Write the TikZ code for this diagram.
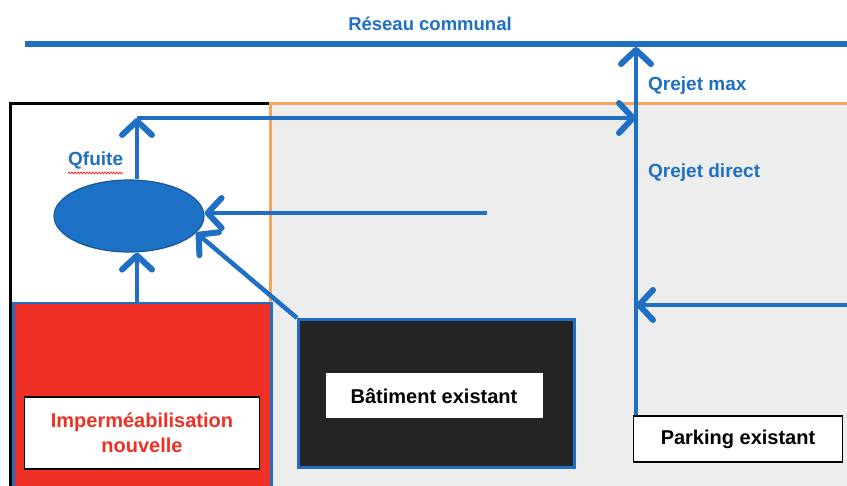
\documentclass[tikz,border=0pt]{standalone}
\usepackage{fontspec}
\setmainfont{Liberation Sans}
\usepackage{xcolor}
\usetikzlibrary{arrows.meta, shapes.geometric, decorations.pathmorphing}

\definecolor{flowblue}{HTML}{1F6FC3}
\definecolor{tankblue}{HTML}{1E72C6}
\definecolor{tankedge}{HTML}{1A5796}
\definecolor{newred}{HTML}{EE3124}
\definecolor{siteorange}{HTML}{F6A35E}
\definecolor{sitegrey}{HTML}{EDEDED}
\definecolor{bldgrey}{HTML}{242424}

\begin{document}
\begin{tikzpicture}[x=1pt, y=-1pt, >={Straight Barb[length=14pt,width=30pt,line width=1.5pt 1,round]}]

	% Styles
	\tikzstyle{flow} = [->, line width=4.5pt, flowblue]
	\tikzstyle{qlabel} = [text=flowblue, anchor=west, inner sep=0pt, font=\fontsize{19}{22}\selectfont\bfseries]
	\tikzstyle{plate} = [rectangle, draw=black, fill=white, line width=1.2pt, align=center, font=\fontsize{20}{25}\selectfont\bfseries]
	\tikzstyle{area} = [rectangle, anchor=north west, draw=flowblue, line width=2.5pt]

	% Frame
	\useasboundingbox (0,0) rectangle (847,486);
	\clip (0,0) rectangle (847,486);
	\fill[white] (0,0) rectangle (847,486);
	\draw[black, line width=3pt] (10,500) |- (270,104);
	\draw[siteorange, fill=sitegrey, line width=3pt] (270,104) rectangle (900,520);

	% Nodes
	\node[text=flowblue, font=\fontsize{18.5}{22}\selectfont\bfseries] (reseau) at (430,24) {Réseau communal};
	\coordinate (netW) at (25,44);
	\coordinate (netE) at (860,44);
	\node[ellipse, fill=tankblue, draw=tankedge, line width=1.2pt, minimum width=150pt, minimum height=72pt] (tank) at (129,216) {};
	\node[area, fill=newred, minimum width=258pt, minimum height=200pt] (newarea) at (12,302) {};
	\node[plate, text=newred, minimum width=235pt, minimum height=72pt] (newtag) at (142,433) {Imperméabilisation\\nouvelle};
	\node[area, fill=bldgrey, line width=3pt, minimum width=276pt, minimum height=148pt] (building) at (297,318) {};
	\node[plate, draw=none, minimum width=217pt, minimum height=45pt] (buildtag) at (434,396) {Bâtiment existant};
	\node[plate, minimum width=209pt, minimum height=46pt] (parking) at (738,439) {Parking existant};
	\node[qlabel] (qfuite) at (68,160) {Qfuite};
	\node[qlabel] (qmax) at (648,86) {Qrejet max};
	\node[qlabel] (qdirect) at (648,173) {Qrejet direct};
	\coordinate (bend) at (137,118);
	\coordinate (outlet) at (636,47);
	\coordinate (fromright) at (860,305);
	\coordinate (frommid) at (487,213);

	% Arrows
	\draw[line width=5.5pt, flowblue] (netW) -- (netE);
	\draw[newred, line width=0.8pt, decorate, decoration={snake, amplitude=0.9pt, segment length=3pt}] ([yshift=-4pt]qfuite.south west) -- ([yshift=-4pt]qfuite.south east);
	\draw[flow] (newarea.north -| bend) -- (tank.south -| bend);
	\draw[flow] (tank.north -| bend) -- (bend);
	\draw[flow] (bend) -- (bend -| outlet);
	\draw[flow] (parking.north west -| outlet) -- (outlet);
	\draw[flow] (fromright) -- (fromright -| outlet);
	\draw[flow] (frommid) -- (tank.east |- frommid);
	\draw[flow] (building.north west) -- (tank.-14);

\end{tikzpicture}
\end{document}
